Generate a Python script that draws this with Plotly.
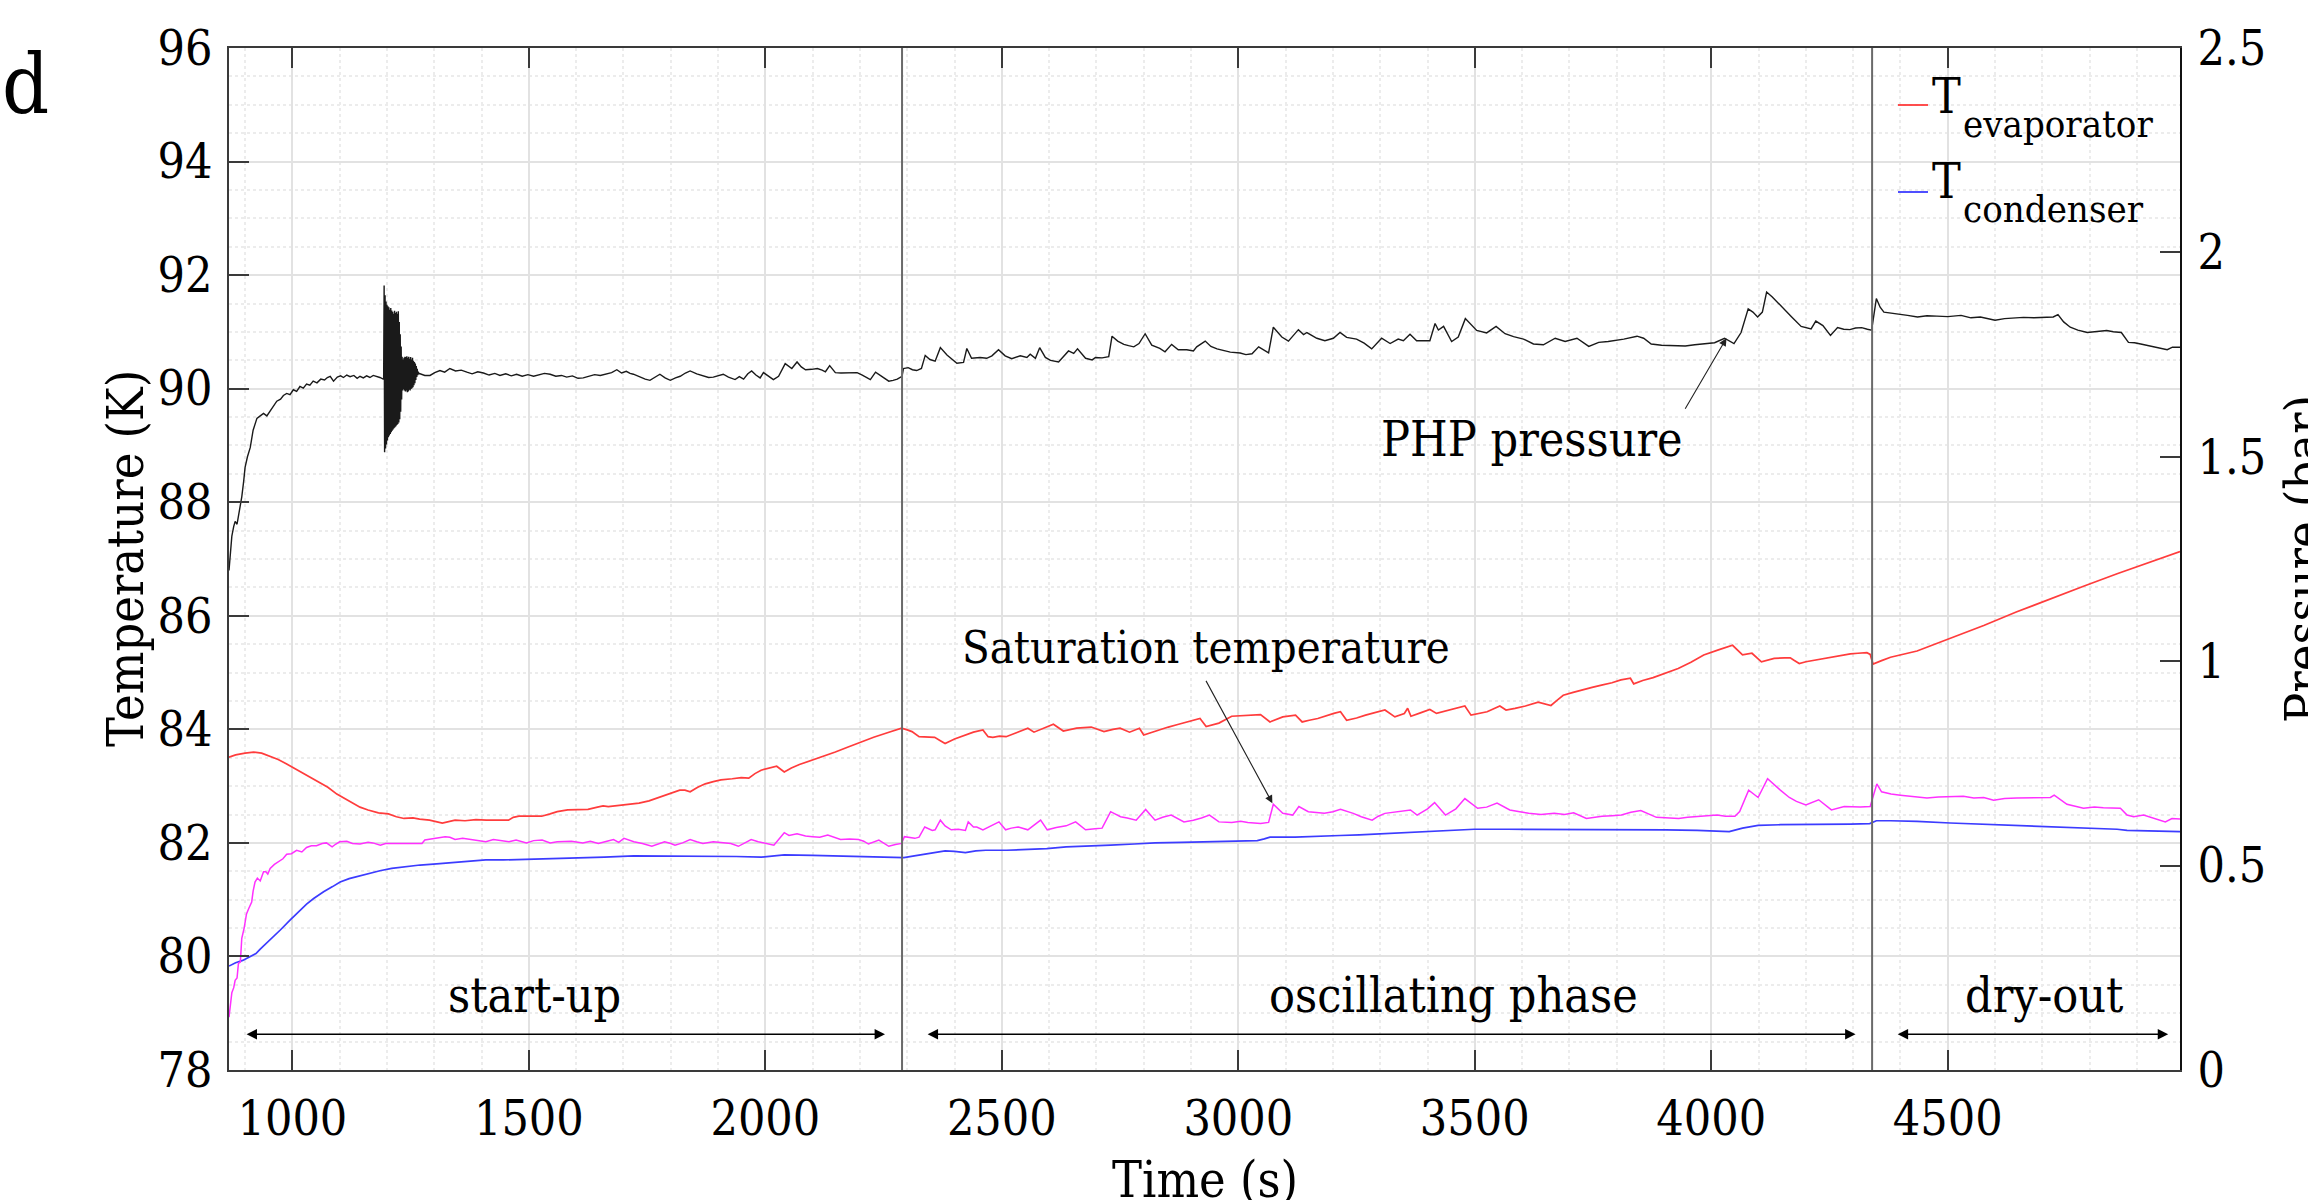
import plotly.graph_objects as go

# ---------------- data ----------------
evap_time = [866, 880, 900, 918, 935, 953, 970, 988, 1005, 1023, 1042, 1059, 1075, 1094, 1107, 1125, 1143, 1160, 1182, 1203,
             1220, 1236, 1255, 1269, 1290, 1317, 1330, 1344, 1365, 1388, 1410, 1430, 1457, 1467, 1479, 1500, 1527, 1545, 1560, 1582,
             1605, 1625, 1645, 1657, 1668, 1690, 1711, 1733, 1754, 1770, 1787, 1805, 1819, 1830, 1841, 1857, 1873, 1890, 1906, 1930,
             1949, 1965, 1978, 1991, 2010, 2024, 2040, 2055, 2072, 2097, 2121, 2148, 2175, 2202, 2229, 2258, 2288, 2300, 2310, 2325,
             2340, 2358, 2370, 2380, 2400, 2423, 2440, 2460, 2471, 2481, 2495, 2509, 2532, 2555, 2568, 2590, 2609, 2630, 2645, 2658,
             2689, 2716, 2735, 2750, 2770, 2791, 2800, 2825, 2852, 2870, 2892, 2919, 2932, 2945, 2959, 2986, 3020, 3047, 3067, 3094,
             3121, 3135, 3150, 3168, 3202, 3216, 3229, 3250, 3269, 3290, 3310, 3331, 3351, 3358, 3365, 3385, 3405, 3419, 3446, 3465,
             3479, 3492, 3510, 3526, 3553, 3566, 3585, 3607, 3634, 3650, 3661, 3675, 3687, 3708, 3728, 3748, 3768, 3790, 3809, 3829,
             3836, 3855, 3877, 3905, 3930, 3957, 3984, 4015, 4045, 4066, 4086, 4106, 4120, 4133, 4155, 4167, 4174, 4186, 4200, 4213,
             4235, 4254, 4275, 4294, 4310, 4329, 4336, 4342, 4360, 4379, 4435, 4505, 4576, 4646, 4717, 4787, 4858, 4928, 4991]
evap_temp = [83.51, 83.55, 83.58, 83.60, 83.58, 83.53, 83.47, 83.39, 83.31, 83.22, 83.14, 83.05, 82.98, 82.86, 82.80, 82.72, 82.63, 82.58, 82.53, 82.51,
             82.46, 82.43, 82.44, 82.42, 82.40, 82.35, 82.38, 82.40, 82.39, 82.41, 82.40, 82.40, 82.40, 82.45, 82.47, 82.47, 82.47, 82.51, 82.55, 82.58,
             82.59, 82.59, 82.63, 82.65, 82.64, 82.66, 82.67, 82.70, 82.74, 82.79, 82.84, 82.89, 82.93, 82.93, 82.90, 82.98, 83.04, 83.08, 83.11, 83.13,
             83.15, 83.14, 83.22, 83.28, 83.32, 83.35, 83.25, 83.32, 83.38, 83.45, 83.52, 83.60, 83.69, 83.78, 83.86, 83.94, 84.02, 83.99, 83.96, 83.87,
             83.86, 83.86, 83.80, 83.75, 83.83, 83.90, 83.95, 83.99, 83.87, 83.86, 83.88, 83.87, 83.95, 84.02, 83.95, 84.03, 84.09, 83.97, 84.00, 84.02,
             84.04, 83.96, 84.00, 84.02, 83.95, 84.02, 83.90, 83.97, 84.04, 84.08, 84.13, 84.19, 84.05, 84.08, 84.11, 84.23, 84.25, 84.26, 84.13, 84.22,
             84.25, 84.13, 84.16, 84.19, 84.28, 84.31, 84.16, 84.20, 84.25, 84.30, 84.34, 84.22, 84.28, 84.37, 84.23, 84.29, 84.35, 84.28, 84.34, 84.38,
             84.41, 84.25, 84.28, 84.31, 84.41, 84.34, 84.37, 84.41, 84.48, 84.44, 84.42, 84.52, 84.60, 84.65, 84.70, 84.74, 84.78, 84.82, 84.87, 84.90,
             84.80, 84.86, 84.91, 84.99, 85.07, 85.18, 85.31, 85.40, 85.48, 85.31, 85.34, 85.19, 85.22, 85.25, 85.26, 85.26, 85.22, 85.16, 85.19, 85.21,
             85.24, 85.28, 85.31, 85.33, 85.34, 85.35, 85.32, 85.15, 85.21, 85.27, 85.38, 85.60, 85.83, 86.07, 86.30, 86.52, 86.74, 86.95, 87.13]

cond_time = [866, 880, 895, 910, 923, 932, 945, 960, 975, 995, 1010, 1030, 1045, 1066, 1085, 1101, 1120, 1143, 1161, 1185,
             1210, 1236, 1270, 1305, 1340, 1376, 1409, 1446, 1495, 1517, 1560, 1608, 1660, 1722, 1780, 1830, 1885, 1938, 1992, 2040,
             2100, 2150, 2208, 2250, 2293, 2315, 2336, 2360, 2380, 2400, 2423, 2445, 2466, 2510, 2555, 2595, 2636, 2680, 2730, 2780,
             2824, 2880, 2932, 2990, 3040, 3055, 3067, 3120, 3175, 3215, 3256, 3310, 3364, 3430, 3499, 3570, 3634, 3700, 3768, 3840,
             3903, 3970, 4038, 4066, 4099, 4146, 4200, 4241, 4294, 4335, 4349, 4379, 4435, 4505, 4576, 4646, 4717, 4787, 4858, 4879,
             4930, 4991]
cond_temp = [79.83, 79.89, 79.93, 79.99, 80.05, 80.13, 80.23, 80.36, 80.47, 80.64, 80.76, 80.92, 81.02, 81.14, 81.23, 81.31, 81.37, 81.42, 81.46, 81.51,
             81.55, 81.58, 81.61, 81.63, 81.65, 81.67, 81.70, 81.70, 81.71, 81.71, 81.72, 81.74, 81.75, 81.77, 81.77, 81.76, 81.76, 81.76, 81.75, 81.79,
             81.78, 81.77, 81.76, 81.75, 81.74, 81.77, 81.80, 81.83, 81.86, 81.85, 81.83, 81.86, 81.87, 81.87, 81.88, 81.90, 81.93, 81.94, 81.96, 81.98,
             82.00, 82.01, 82.02, 82.03, 82.04, 82.07, 82.10, 82.10, 82.11, 82.13, 82.14, 82.16, 82.18, 82.21, 82.24, 82.24, 82.24, 82.24, 82.24, 82.23,
             82.23, 82.22, 82.20, 82.26, 82.31, 82.32, 82.32, 82.32, 82.33, 82.34, 82.39, 82.39, 82.38, 82.35, 82.33, 82.31, 82.28, 82.27, 82.24, 82.22,
             82.21, 82.20]

sat_time = [866, 869, 872, 876, 879, 883, 886, 890, 893, 898, 903, 908, 914, 917, 921, 926, 932, 939, 944, 948,
            953, 962, 971, 980, 988, 998, 1009, 1020, 1030, 1040, 1051, 1063, 1072, 1084, 1092, 1100, 1115, 1127, 1143, 1160,
            1170, 1178, 1186, 1197, 1274, 1280, 1300, 1323, 1333, 1344, 1360, 1376, 1395, 1409, 1425, 1441, 1458, 1473, 1495, 1510,
            1528, 1545, 1560, 1590, 1614, 1630, 1647, 1665, 1679, 1690, 1701, 1722, 1740, 1760, 1775, 1787, 1800, 1809, 1825, 1841,
            1855, 1868, 1890, 1910, 1927, 1943, 1956, 1970, 1985, 2002, 2018, 2040, 2050, 2067, 2085, 2100, 2115, 2132, 2145, 2159,
            2178, 2197, 2208, 2218, 2240, 2250, 2261, 2275, 2288, 2294, 2316, 2325, 2337, 2353, 2359, 2370, 2380, 2393, 2408, 2423,
            2429, 2440, 2447, 2460, 2472, 2494, 2508, 2520, 2535, 2555, 2582, 2596, 2615, 2636, 2656, 2677, 2697, 2712, 2730, 2751,
            2765, 2784, 2804, 2824, 2840, 2858, 2885, 2905, 2922, 2939, 2959, 2986, 3005, 3020, 3047, 3064, 3074, 3094, 3115, 3128,
            3148, 3165, 3182, 3200, 3216, 3243, 3260, 3283, 3296, 3310, 3337, 3364, 3378, 3400, 3415, 3438, 3460, 3479, 3506, 3525,
            3547, 3574, 3595, 3614, 3640, 3668, 3690, 3709, 3736, 3769, 3790, 3810, 3830, 3851, 3884, 3910, 3931, 3950, 3972, 3990,
            4012, 4030, 4050, 4060, 4079, 4099, 4119, 4146, 4165, 4180, 4200, 4227, 4254, 4281, 4315, 4336, 4350, 4360, 4380, 4400,
            4435, 4456, 4480, 4505, 4533, 4555, 4576, 4597, 4620, 4646, 4680, 4717, 4725, 4740, 4752, 4787, 4810, 4829, 4865, 4879,
            4893, 4914, 4935, 4960, 4974, 4991]
sat_temp = [78.93, 79.20, 79.36, 79.45, 79.58, 79.62, 79.88, 79.90, 80.32, 80.50, 80.75, 80.85, 80.96, 81.15, 81.31, 81.38, 81.33, 81.49, 81.49, 81.45,
            81.55, 81.62, 81.67, 81.72, 81.80, 81.81, 81.87, 81.84, 81.92, 81.95, 81.95, 81.99, 82.00, 81.93, 81.98, 82.02, 82.03, 81.99, 81.98, 82.01,
            82.00, 81.98, 81.96, 81.99, 81.99, 82.05, 82.08, 82.11, 82.10, 82.06, 82.08, 82.06, 82.04, 82.02, 82.06, 82.04, 82.02, 82.05, 82.00, 82.04,
            82.05, 82.00, 82.02, 82.03, 82.00, 82.03, 81.99, 82.03, 82.06, 82.01, 82.08, 82.02, 81.99, 81.94, 81.99, 82.02, 81.99, 81.96, 82.00, 82.06,
            82.02, 81.99, 82.02, 82.00, 81.99, 81.94, 82.00, 82.06, 82.02, 81.99, 81.96, 82.18, 82.13, 82.16, 82.12, 82.11, 82.10, 82.14, 82.10, 82.06,
            82.07, 82.06, 82.03, 81.98, 82.05, 81.99, 81.94, 81.97, 81.99, 82.11, 82.08, 82.10, 82.28, 82.22, 82.23, 82.40, 82.30, 82.23, 82.24, 82.22,
            82.37, 82.28, 82.28, 82.23, 82.28, 82.37, 82.23, 82.26, 82.28, 82.23, 82.40, 82.23, 82.27, 82.30, 82.37, 82.23, 82.25, 82.26, 82.55, 82.46,
            82.44, 82.40, 82.59, 82.40, 82.45, 82.49, 82.37, 82.40, 82.44, 82.49, 82.37, 82.36, 82.38, 82.36, 82.34, 82.36, 82.68, 82.52, 82.49, 82.64,
            82.55, 82.53, 82.52, 82.55, 82.59, 82.52, 82.46, 82.40, 82.47, 82.52, 82.55, 82.58, 82.49, 82.60, 82.71, 82.49, 82.60, 82.78, 82.61, 82.63,
            82.70, 82.58, 82.55, 82.52, 82.50, 82.52, 82.50, 82.53, 82.43, 82.47, 82.48, 82.49, 82.54, 82.57, 82.45, 82.44, 82.43, 82.45, 82.46, 82.47,
            82.49, 82.47, 82.47, 82.55, 82.93, 82.80, 83.13, 82.93, 82.80, 82.73, 82.67, 82.76, 82.58, 82.64, 82.63, 82.64, 83.04, 82.90, 82.86, 82.84,
            82.81, 82.79, 82.81, 82.81, 82.82, 82.79, 82.80, 82.75, 82.78, 82.79, 82.80, 82.80, 82.84, 82.75, 82.68, 82.61, 82.63, 82.62, 82.61, 82.49,
            82.46, 82.49, 82.43, 82.37, 82.43, 82.42]

press_time = [866, 869, 872, 876, 879, 883, 886, 890, 893, 897, 900, 905, 911, 917, 925, 932, 939, 946, 953, 960,
              967, 975, 981, 988, 995, 1002, 1009, 1016, 1023, 1030, 1037, 1044, 1052, 1060, 1068, 1074, 1080, 1087, 1095, 1102,
              1108, 1115, 1122, 1130, 1137, 1143, 1150, 1157, 1164, 1171, 1178, 1185, 1192,
              1193, 1194, 1195, 1196, 1197, 1198, 1199, 1200, 1201, 1202, 1203, 1204, 1205, 1206, 1207, 1208, 1209, 1210, 1211, 1212,
              1213, 1214, 1215, 1216, 1217, 1218, 1219, 1220, 1221, 1222, 1223, 1224, 1225, 1226, 1227, 1228, 1229, 1230, 1231, 1232,
              1233, 1234, 1235, 1236, 1237, 1238, 1239, 1240, 1241, 1242, 1243, 1244, 1245, 1246, 1247, 1248, 1249, 1250, 1251, 1252,
              1253, 1254, 1255, 1256, 1257, 1258, 1259, 1260, 1261, 1262, 1263, 1264, 1265, 1266, 1268,
              1270, 1280, 1291, 1301, 1312, 1322, 1333, 1345, 1357, 1369, 1380, 1392, 1404, 1416, 1428, 1439, 1451, 1463, 1474, 1486,
              1498, 1510, 1522, 1533, 1545, 1557, 1569, 1580, 1592, 1604, 1615, 1627, 1639, 1651, 1663, 1675, 1686, 1696, 1706, 1714,
              1721, 1735, 1746, 1756, 1767, 1777, 1788, 1799, 1810, 1820, 1831, 1841, 1855, 1869, 1880, 1890, 1900, 1911, 1922, 1936,
              1945, 1954, 1963, 1971, 1980, 1989, 1996, 2007, 2017, 2028, 2042, 2056, 2067, 2076, 2085, 2098, 2110, 2120, 2127, 2136,
              2148, 2160, 2173, 2185, 2194, 2205, 2215, 2222, 2233, 2247, 2261, 2270, 2279, 2289, 2292, 2302, 2311, 2320, 2330, 2338,
              2348, 2359, 2370, 2384, 2395, 2405, 2419, 2426, 2436, 2445, 2454, 2468, 2479, 2493, 2507, 2521, 2539, 2553, 2560, 2571,
              2580, 2592, 2603, 2620, 2630, 2641, 2652, 2660, 2677, 2691, 2698, 2712, 2726, 2733, 2745, 2758, 2768, 2779, 2790, 2803,
              2817, 2834, 2845, 2859, 2873, 2891, 2905, 2912, 2930, 2942, 2955, 2970, 2983, 3004, 3016, 3029, 3043, 3064, 3074, 3092,
              3106, 3127, 3138, 3145, 3166, 3183, 3201, 3215, 3229, 3250, 3266, 3282, 3303, 3321, 3338, 3349, 3363, 3377, 3405, 3416,
              3423, 3434, 3451, 3465, 3480, 3504, 3525, 3545, 3564, 3582, 3603, 3624, 3645, 3670, 3691, 3716, 3741, 3762, 3782, 3815,
              3843, 3857, 3873, 3895, 3924, 3945, 3965, 3985, 4007, 4028, 4048, 4063, 4078, 4088, 4098, 4108, 4117, 4129, 4149, 4170,
              4190, 4211, 4221, 4236, 4252, 4267, 4280, 4293, 4305, 4318, 4330, 4339, 4349, 4357, 4365, 4380, 4395, 4415, 4436, 4456,
              4477, 4500, 4528, 4549, 4569, 4600, 4620, 4641, 4660, 4682, 4700, 4723, 4733, 4745, 4759, 4775, 4795, 4815, 4836, 4850,
              4867, 4882, 4895, 4908, 4925, 4939, 4952, 4964, 4975, 4991]
press_bar = [1.222, 1.270, 1.306, 1.330, 1.342, 1.335, 1.355, 1.380, 1.402, 1.440, 1.474, 1.500, 1.523, 1.565, 1.594, 1.600, 1.606, 1.600, 1.612, 1.625,
             1.636, 1.641, 1.650, 1.655, 1.652, 1.664, 1.660, 1.672, 1.668, 1.678, 1.675, 1.685, 1.681, 1.690, 1.688, 1.694, 1.697, 1.685, 1.695, 1.698,
             1.694, 1.700, 1.696, 1.699, 1.692, 1.697, 1.693, 1.698, 1.694, 1.699, 1.697, 1.694, 1.690,
             1.690, 1.919, 1.511, 1.895, 1.520, 1.880, 1.530, 1.872, 1.540, 1.868, 1.548, 1.866, 1.552, 1.860, 1.556, 1.864, 1.560, 1.858, 1.564, 1.855,
             1.567, 1.850, 1.570, 1.857, 1.572, 1.852, 1.575, 1.855, 1.578, 1.850, 1.580, 1.856, 1.584, 1.830, 1.592, 1.800, 1.610, 1.770, 1.640, 1.745,
             1.662, 1.738, 1.665, 1.742, 1.662, 1.745, 1.660, 1.744, 1.662, 1.746, 1.658, 1.742, 1.660, 1.745, 1.664, 1.740, 1.662, 1.744, 1.666, 1.738,
             1.668, 1.742, 1.670, 1.735, 1.675, 1.732, 1.680, 1.728, 1.688, 1.722, 1.695, 1.715, 1.700, 1.708, 1.703,
             1.703, 1.699, 1.699, 1.706, 1.711, 1.707, 1.716, 1.710, 1.712, 1.707, 1.703, 1.708, 1.705, 1.700, 1.704, 1.699, 1.703, 1.698, 1.702, 1.697,
             1.701, 1.697, 1.700, 1.704, 1.702, 1.697, 1.699, 1.695, 1.698, 1.692, 1.693, 1.697, 1.701, 1.699, 1.702, 1.706, 1.713, 1.705, 1.709, 1.704,
             1.702, 1.695, 1.690, 1.687, 1.695, 1.702, 1.693, 1.687, 1.693, 1.697, 1.705, 1.710, 1.703, 1.699, 1.694, 1.695, 1.699, 1.702, 1.695, 1.689,
             1.696, 1.690, 1.703, 1.710, 1.700, 1.693, 1.706, 1.698, 1.689, 1.697, 1.728, 1.716, 1.732, 1.720, 1.713, 1.714, 1.716, 1.712, 1.708, 1.723,
             1.706, 1.705, 1.706, 1.707, 1.706, 1.700, 1.693, 1.689, 1.707, 1.695, 1.685, 1.687, 1.690, 1.697, 1.716, 1.718, 1.713, 1.711, 1.716, 1.748,
             1.738, 1.734, 1.767, 1.749, 1.738, 1.729, 1.731, 1.765, 1.741, 1.742, 1.743, 1.741, 1.747, 1.762, 1.747, 1.740, 1.747, 1.743, 1.751, 1.741,
             1.767, 1.743, 1.736, 1.732, 1.745, 1.759, 1.753, 1.764, 1.741, 1.737, 1.743, 1.742, 1.745, 1.795, 1.783, 1.775, 1.772, 1.769, 1.777, 1.801,
             1.773, 1.765, 1.757, 1.775, 1.762, 1.762, 1.759, 1.769, 1.783, 1.770, 1.764, 1.760, 1.756, 1.754, 1.750, 1.752, 1.769, 1.754, 1.817, 1.793,
             1.783, 1.811, 1.799, 1.804, 1.790, 1.784, 1.790, 1.804, 1.792, 1.788, 1.778, 1.764, 1.790, 1.777, 1.788, 1.784, 1.800, 1.784, 1.784, 1.826,
             1.810, 1.819, 1.782, 1.793, 1.838, 1.809, 1.803, 1.819, 1.801, 1.794, 1.788, 1.776, 1.774, 1.790, 1.782, 1.790, 1.770, 1.780, 1.782, 1.788,
             1.795, 1.790, 1.776, 1.773, 1.772, 1.771, 1.774, 1.776, 1.779, 1.790, 1.777, 1.804, 1.862, 1.854, 1.842, 1.854, 1.903, 1.891, 1.866, 1.842,
             1.819, 1.813, 1.832, 1.821, 1.797, 1.816, 1.812, 1.811, 1.815, 1.816, 1.812, 1.810, 1.887, 1.866, 1.854, 1.852, 1.850, 1.846, 1.842, 1.845,
             1.844, 1.843, 1.846, 1.840, 1.842, 1.834, 1.838, 1.840, 1.841, 1.840, 1.841, 1.842, 1.848, 1.830, 1.817, 1.810, 1.804, 1.806, 1.809, 1.806,
             1.804, 1.780, 1.779, 1.776, 1.772, 1.768, 1.765, 1.762, 1.768, 1.768]

phase_bounds = [2289, 4340]
phase_names = ["start-up", "oscillating phase", "dry-out"]
phase_label_time = [1511, 3455, 4704]
phase_arrow_start = [900, 2340, 4391]
phase_arrow_end = [2253, 4305, 4966]
phase_arrow_temp = 78.63

x_range = [866, 4991]
temp_range = [78, 96]
press_range = [0, 2.5]

# ---------------- styling ----------------
FONT = "DejaVu Serif Condensed, DejaVu Serif, Liberation Serif, serif"
RED = "#ff3c3c"
BLUE = "#3c3cff"
MAGENTA = "#ff30ff"
BLACK = "#1a1a1a"
AXC = "#3a3a3a"
W, H = 2308, 1200
ML, MR, MT, MB = 229, 128, 48, 130
PW, PH = W - ML - MR, H - MT - MB


def px_x(p):
    return (p - ML) / PW


def px_y(p):
    return (H - MB - p) / PH


fig = go.Figure()
fig.add_trace(go.Scatter(x=evap_time, y=evap_temp, mode="lines", line=dict(color=RED, width=1.7),
                         name="T<sub>evaporator</sub>", showlegend=False))
fig.add_trace(go.Scatter(x=cond_time, y=cond_temp, mode="lines", line=dict(color=BLUE, width=1.7),
                         name="T<sub>condenser</sub>", showlegend=False))
fig.add_trace(go.Scatter(x=sat_time, y=sat_temp, mode="lines", line=dict(color=MAGENTA, width=1.5),
                         name="Saturation temperature", showlegend=False))
fig.add_trace(go.Scatter(x=press_time, y=press_bar, mode="lines", line=dict(color=BLACK, width=1.4),
                         name="PHP pressure", yaxis="y2", showlegend=False))

shapes = []
for b in phase_bounds:
    shapes.append(dict(type="line", xref="x", yref="paper", x0=b, x1=b, y0=0, y1=1,
                       line=dict(color="#6a6a6a", width=2)))

annotations = []
for name, xc, xs, xe in zip(phase_names, phase_label_time, phase_arrow_start, phase_arrow_end):
    annotations.append(dict(x=xc, y=78.80, xref="x", yref="y", text=name, showarrow=False,
                            xanchor="center", yanchor="bottom", font=dict(family=FONT, size=48, color="black")))
    annotations.append(dict(x=xe, y=phase_arrow_temp, ax=xs, ay=phase_arrow_temp, xref="x", yref="y",
                            axref="x", ayref="y", text="", showarrow=True, arrowside="end+start",
                            arrowhead=2, startarrowhead=2, arrowsize=1.3, startarrowsize=1.3,
                            arrowwidth=1.6, arrowcolor="black", standoff=0, startstandoff=0))

# callouts
annotations.append(dict(x=3621, y=88.58, xref="x", yref="y", text="PHP pressure", showarrow=False,
                        xanchor="center", yanchor="bottom", font=dict(family=FONT, size=48, color="black")))
annotations.append(dict(x=4032, y=1.79, ax=3943, ay=1.614, xref="x", yref="y2", axref="x", ayref="y2",
                        text="", showarrow=True, arrowhead=2, arrowsize=1.4, arrowwidth=1.1,
                        arrowcolor="#222", standoff=0))
annotations.append(dict(x=2932, y=84.94, xref="x", yref="y", text="Saturation temperature", showarrow=False,
                        xanchor="center", yanchor="bottom", font=dict(family=FONT, size=45, color="black")))
annotations.append(dict(x=3072, y=82.70, ax=2930, ay=84.88, xref="x", yref="y", axref="x", ayref="y",
                        text="", showarrow=True, arrowhead=2, arrowsize=1.4, arrowwidth=1.1,
                        arrowcolor="#222", standoff=0))

# axis titles
annotations.append(dict(x=0.5, y=px_y(1180), xref="paper", yref="paper", text="Time (s)", showarrow=False,
                        xanchor="center", yanchor="middle", font=dict(family=FONT, size=50, color="black")))
annotations.append(dict(x=px_x(126), y=0.5, xref="paper", yref="paper", text="Temperature (K)", showarrow=False,
                        textangle=-90, xanchor="center", yanchor="middle",
                        font=dict(family=FONT, size=50, color="black")))
annotations.append(dict(x=px_x(2304), y=0.5, xref="paper", yref="paper", text="Pressure (bar)", showarrow=False,
                        textangle=-90, xanchor="center", yanchor="middle",
                        font=dict(family=FONT, size=50, color="black")))
annotations.append(dict(x=px_x(25), y=px_y(134), xref="paper", yref="paper", text="d", showarrow=False,
                        xanchor="center", yanchor="bottom", font=dict(family=FONT, size=82, color="black")))

# legend (drawn manually to match the MATLAB subscript layout)
legend_items = [("evaporator", RED, 105, 113, 138), ("condenser", BLUE, 192, 198, 223)]
for sub, col, ly, base_T, base_sub in legend_items:
    shapes.append(dict(type="line", xref="paper", yref="paper", x0=px_x(1898), x1=px_x(1928),
                       y0=px_y(ly), y1=px_y(ly), line=dict(color=col, width=1.8)))
    annotations.append(dict(x=px_x(1946), y=px_y(base_T + 13), xref="paper", yref="paper", text="T",
                            showarrow=False, xanchor="center", yanchor="bottom",
                            font=dict(family=FONT, size=48, color="black")))
    annotations.append(dict(x=px_x(1961), y=px_y(base_sub + 10), xref="paper", yref="paper", text=sub,
                            showarrow=False, xanchor="left", yanchor="bottom",
                            font=dict(family=FONT, size=38, color="black")))

fig.update_layout(
    width=W, height=H,
    margin=dict(l=ML, r=MR, t=MT, b=MB, pad=0),
    paper_bgcolor="white", plot_bgcolor="white",
    font=dict(family=FONT, size=48, color="black"),
    shapes=shapes, annotations=annotations,
    showlegend=False,
    xaxis=dict(range=x_range, dtick=500, tick0=0, showgrid=True, gridcolor="#e2e2e2", gridwidth=2,
               minor=dict(dtick=100, showgrid=True, gridcolor="#ececec", griddash="dot", gridwidth=1.5),
               ticks="inside", ticklen=20, tickwidth=1.5, tickcolor=AXC, showline=True, linecolor=AXC,
               linewidth=2, mirror="ticks", zeroline=False, ticklabelstandoff=5,
               tickfont=dict(family=FONT, size=48, color="black")),
    yaxis=dict(range=temp_range, dtick=2, showgrid=True, gridcolor="#e2e2e2", gridwidth=2,
               minor=dict(dtick=0.5, showgrid=True, gridcolor="#ececec", griddash="dot", gridwidth=1.5),
               ticks="inside", ticklen=20, tickwidth=1.5, tickcolor=AXC, showline=True, linecolor=AXC,
               linewidth=2, zeroline=False, ticklabelstandoff=5,
               tickfont=dict(family=FONT, size=48, color="black")),
    yaxis2=dict(range=press_range, dtick=0.5, overlaying="y", side="right", showgrid=False,
                ticks="inside", ticklen=20, tickwidth=1.5, tickcolor=AXC, showline=True, linecolor="#111",
                linewidth=2, zeroline=False, ticklabelstandoff=6,
                tickfont=dict(family=FONT, size=48, color="black")),
)

fig.write_html("out.html", config={"displayModeBar": False},
               post_script="document.body.style.margin='0';document.body.style.overflow='hidden';")
